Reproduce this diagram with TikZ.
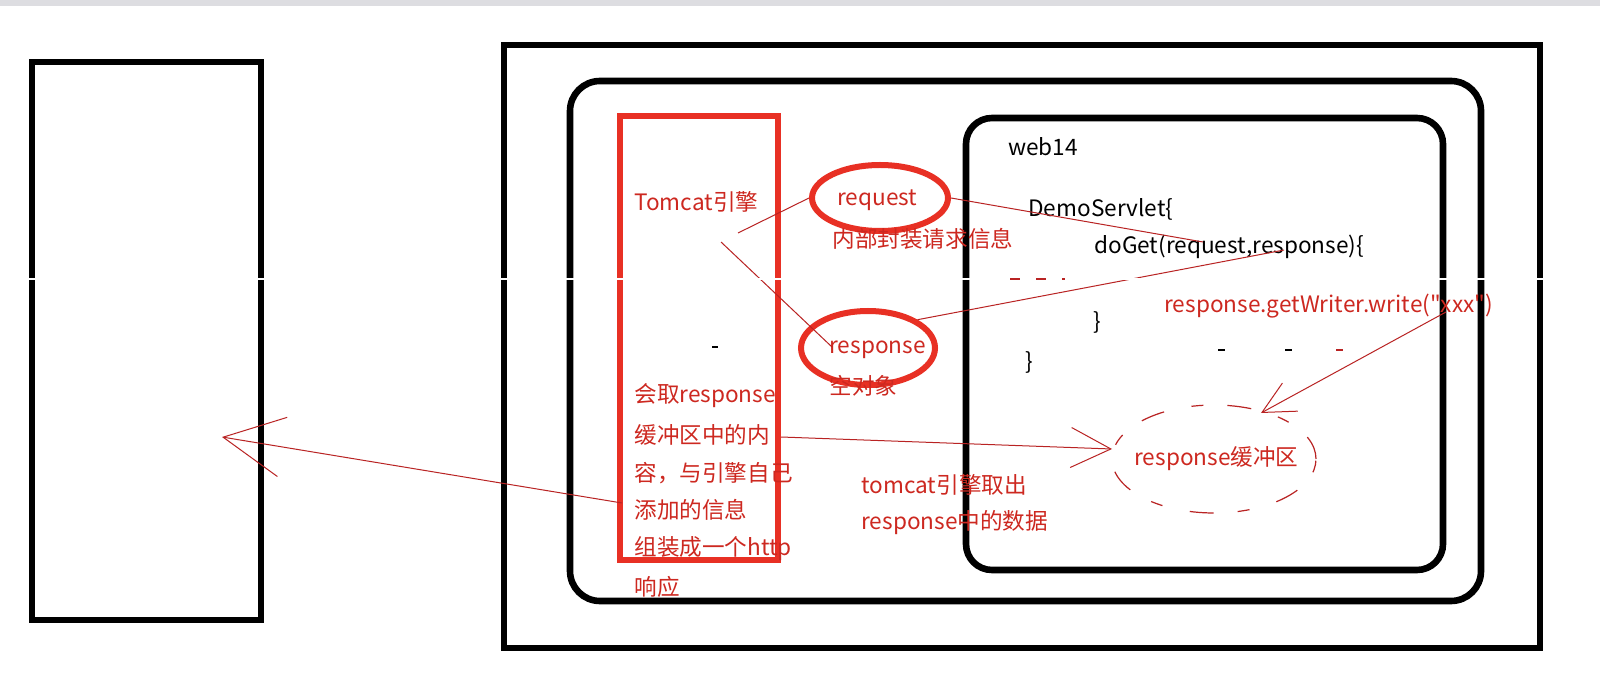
\documentclass[tikz,border=0pt]{standalone}
\usepackage{fontspec}
\newfontfamily\cjkf{Noto Sans CJK SC}
\usetikzlibrary{shapes.geometric,arrows.meta}
\definecolor{redA}{RGB}{232,48,36}
\definecolor{redT}{RGB}{205,40,32}
\definecolor{redL}{RGB}{185,35,35}
\tikzset{
  blkbox/.style={line width=3.3pt,black},
  redbox/.style={line width=3pt,redA},
  lbl/.style={anchor=west,inner sep=0pt,font=\cjkf\fontsize{11.3}{13}\selectfont},
  rlbl/.style={lbl,text=redT},
  thinred/.style={redL,line width=0.5pt},
  barb/.style={-{Straight Barb[length=#1,width=#1,line width=0.5pt]}},
  redell/.style={ellipse,draw=redA,line width=3pt,inner sep=0pt},
  dashell/.style={ellipse,draw=redL,line width=0.6pt,dash pattern=on 12pt off 12pt on 6pt off 14pt,inner sep=0pt}
}
\begin{document}
\begin{tikzpicture}[x=0.5pt,y=-0.5pt]
\useasboundingbox (0,0) rectangle (1600,689);
\fill[white] (0,0) rectangle (1600,689);
\fill[blue!6!gray!25] (0,0) rectangle (1600,6);

% boxes
\draw[blkbox] (32,62) rectangle (261,620);
\draw[blkbox] (504,45) rectangle (1540,648);
\draw[blkbox,rounded corners=15pt] (570,81) rectangle (1481,601);
\draw[blkbox,rounded corners=13pt] (966,118) rectangle (1443,570);
\draw[redbox] (620,116) rectangle (778,560);

% ellipses
\node[redell,minimum width=68pt,minimum height=33pt] (req) at (880,198) {};
\node[redell,minimum width=67pt,minimum height=37pt] (resp) at (868,348) {};
\node[dashell,minimum width=102pt,minimum height=54pt] (buf) at (1214,459) {};

% texts
\node[rlbl] (tom) at (634,202) {Tomcat引擎};
\node[rlbl] (reqt) at (837,200) {request};
\node[rlbl] (nb) at (832,239) {内部封装请求信息};
\node[rlbl] (respt) at (829,350) {response};
\node[rlbl] (kd) at (829,386) {空对象};
\node[lbl] (web) at (1008,147) {web14};
\node[lbl] (demo) at (1028,209) {DemoServlet\{};
\node[lbl] (doget) at (1094,247) {doGet(request,response)\{};
\node[rlbl] (gw) at (1164,306) {response.getWriter.write("xxx")};
\node[lbl] (cb1) at (1093,322) {\}};
\node[lbl] (cb2) at (1025,362) {\}};
\node[rlbl] (buft) at (1134,459) {response缓冲区};
\node[rlbl] (tq1) at (861,485) {tomcat引擎取出};
\node[rlbl] (tq2) at (861,523) {response中的数据};
\node[rlbl] (l1) at (634,396) {会取response};
\node[rlbl] (l2) at (634,435) {缓冲区中的内};
\node[rlbl] (l3) at (634,473) {容，与引擎自己};
\node[rlbl] (l4) at (634,510) {添加的信息};
\node[rlbl] (l5) at (634,549) {组装成一个http};
\node[rlbl] (l6) at (634,587) {响应};

% connector end points
\coordinate (a1) at (738,233);
\coordinate (a2) at (721,242);
\coordinate (a3) at (1203,242);
\coordinate (a4) at (1284,250);
\coordinate (a5) at (1446,312);
\coordinate (a6) at (1261,413);
\coordinate (a7) at (781,437);
\coordinate (a8) at (1112,449);
\coordinate (a9) at (622,503);
\coordinate (a10) at (222,437);
\coordinate (a11) at (832,347);

\draw[thinred] (a1) -- (req.west);
\draw[thinred] (a2) -- (a11);
\draw[thinred] (req.east) -- (a3);
\draw[thinred] (resp.north east) -- (a4);
\draw[thinred,barb=16pt] (a5) -- (a6);
\draw[thinred,barb=20pt] (a7) -- (a8);
\draw[thinred,barb=30pt] (a9) -- (a10);

% small marks
\draw[white,line width=1pt] (0,279) -- (1600,279);
\draw[black,line width=0.6pt] (712,347) -- (718,347);
\draw[black,line width=0.6pt] (1218,350) -- (1225,350) (1285,350) -- (1292,350);
\draw[redL,line width=0.6pt] (1336,350) -- (1343,350);
\draw[redL,line width=0.6pt,dash pattern=on 5pt off 8pt] (1010,279) -- (1065,279);
\end{tikzpicture}
\end{document}
